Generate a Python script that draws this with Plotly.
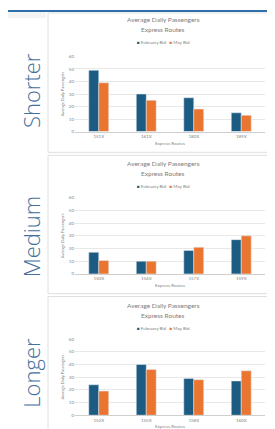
import plotly.graph_objects as go

# ---------------- data ----------------
groups = ["Shorter", "Medium", "Longer"]
routes_shorter = ["151X", "161X", "180X", "189X"]
routes_medium = ["150X", "154X", "157X", "159X"]
routes_longer = ["152X", "155X", "158X", "160X"]
feb_shorter = [49, 30, 27, 15]
may_shorter = [39, 25, 18, 13]
feb_medium = [17, 10, 18.5, 27]
may_medium = [10.5, 10, 21, 30]
feb_longer = [24, 40, 29, 27]
may_longer = [19, 36, 28, 35]
series_names = ["February Bid", "May Bid"]
y_ticks = [0, 10, 20, 30, 40, 50, 60]
chart_title = "Average Daily Passengers"
chart_subtitle = "Express Routes"
x_title = "Express Routes"
y_title = "Average Daily Passengers"

W, H = 275, 429
C_FEB = "#1d5c82"
C_MAY = "#ea7530"
GRAY_TXT = "#858585"

def px(x):
    return x / W

def py(y):
    return 1 - y / H

panels = [
    # (routes, feb, may, plot_top, plot_bottom, title_y, legend_y, box_top, box_bottom, label_y)
    (routes_shorter, feb_shorter, may_shorter, 47, 123, 10, 33, 3, 144, 82),
    (routes_medium, feb_medium, may_medium, 190, 267, 155, 179, 147, 287, 229),
    (routes_longer, feb_longer, may_longer, 333, 410, 299, 322, 290, 432, 367),
]

fig = go.Figure()
annotations = []
shapes = []

# top blue strip and faint page edges
shapes.append(dict(type="rect", xref="paper", yref="paper", x0=0, x1=1,
                   y0=py(2), y1=1, fillcolor="#2f6fa8", line=dict(width=0), layer="below"))
shapes.append(dict(type="rect", xref="paper", yref="paper", x0=0, x1=px(38),
                   y0=py(8), y1=py(2), fillcolor="#f4f4f4", line=dict(width=0), layer="below"))
shapes.append(dict(type="rect", xref="paper", yref="paper", x0=px(271), x1=1,
                   y0=0, y1=py(2), fillcolor="#f4f4f4", line=dict(width=0), layer="below"))

for i, (routes, feb, may, ptop, pbot, ty, ly, btop, bbot, lab_y) in enumerate(panels):
    n = "" if i == 0 else str(i + 1)
    xa, ya = "x" + n, "y" + n
    fig.add_trace(go.Bar(x=routes, y=feb, name=series_names[0], marker_color=C_FEB,
                         xaxis=xa, yaxis=ya, showlegend=False))
    fig.add_trace(go.Bar(x=routes, y=may, name=series_names[1], marker_color=C_MAY,
                         xaxis=xa, yaxis=ya, showlegend=False))
    fig.update_layout(**{
        "xaxis" + n: dict(domain=[px(67), px(257)], anchor=ya, showgrid=False,
                          showline=True, linecolor="#cfcfcf", linewidth=1,
                          ticks="", tickfont=dict(size=4.5, color=GRAY_TXT),
                          title=dict(text=x_title, font=dict(size=4.5, color=GRAY_TXT), standoff=3),
                          fixedrange=True),
        "yaxis" + n: dict(domain=[py(pbot), py(ptop)], anchor=xa, range=[0, 60],
                          tickvals=y_ticks, showgrid=True, gridcolor="#e8e8e8", gridwidth=1,
                          zeroline=False, showline=False, ticks="",
                          tickfont=dict(size=4.5, color=GRAY_TXT),
                          title=dict(text=y_title, font=dict(size=4, color=GRAY_TXT), standoff=4),
                          fixedrange=True),
    })
    # panel box
    shapes.append(dict(type="rect", xref="paper", yref="paper", x0=px(40), x1=px(270),
                       y0=py(bbot), y1=py(btop), line=dict(color="#dedede", width=1),
                       fillcolor="rgba(0,0,0,0)", layer="below"))
    # titles
    annotations.append(dict(text=chart_title, xref="paper", yref="paper", x=px(155), y=py(ty),
                            showarrow=False, font=dict(size=6.5, color="#7d7d7d"),
                            xanchor="center", yanchor="middle"))
    annotations.append(dict(text=chart_subtitle, xref="paper", yref="paper", x=px(155), y=py(ty + 10),
                            showarrow=False, font=dict(size=6.5, color="#7d7d7d"),
                            xanchor="center", yanchor="middle"))
    # legend
    annotations.append(dict(
        text=f'<span style="color:{C_FEB}">■</span> {series_names[0]}   '
             f'<span style="color:{C_MAY}">■</span> {series_names[1]}',
        xref="paper", yref="paper", x=px(155), y=py(ly), showarrow=False,
        font=dict(size=4.5, color="#7d7d7d"), xanchor="center", yanchor="middle"))
    # group label
    annotations.append(dict(text=groups[i], xref="paper", yref="paper", x=px(23), y=py(lab_y),
                            showarrow=False, textangle=-90,
                            font=dict(size=22, color="#44709c", family="Open Sans", weight=300),
                            xanchor="center", yanchor="middle"))

fig.update_layout(
    width=W, height=H, margin=dict(l=0, r=0, t=0, b=0),
    paper_bgcolor="white", plot_bgcolor="white",
    barmode="group", bargap=0.58, bargroupgap=0,
    font=dict(family="Lato", color=GRAY_TXT),
    annotations=annotations, shapes=shapes, showlegend=False,
)

fig.write_html("out.html", config={"displayModeBar": False})
